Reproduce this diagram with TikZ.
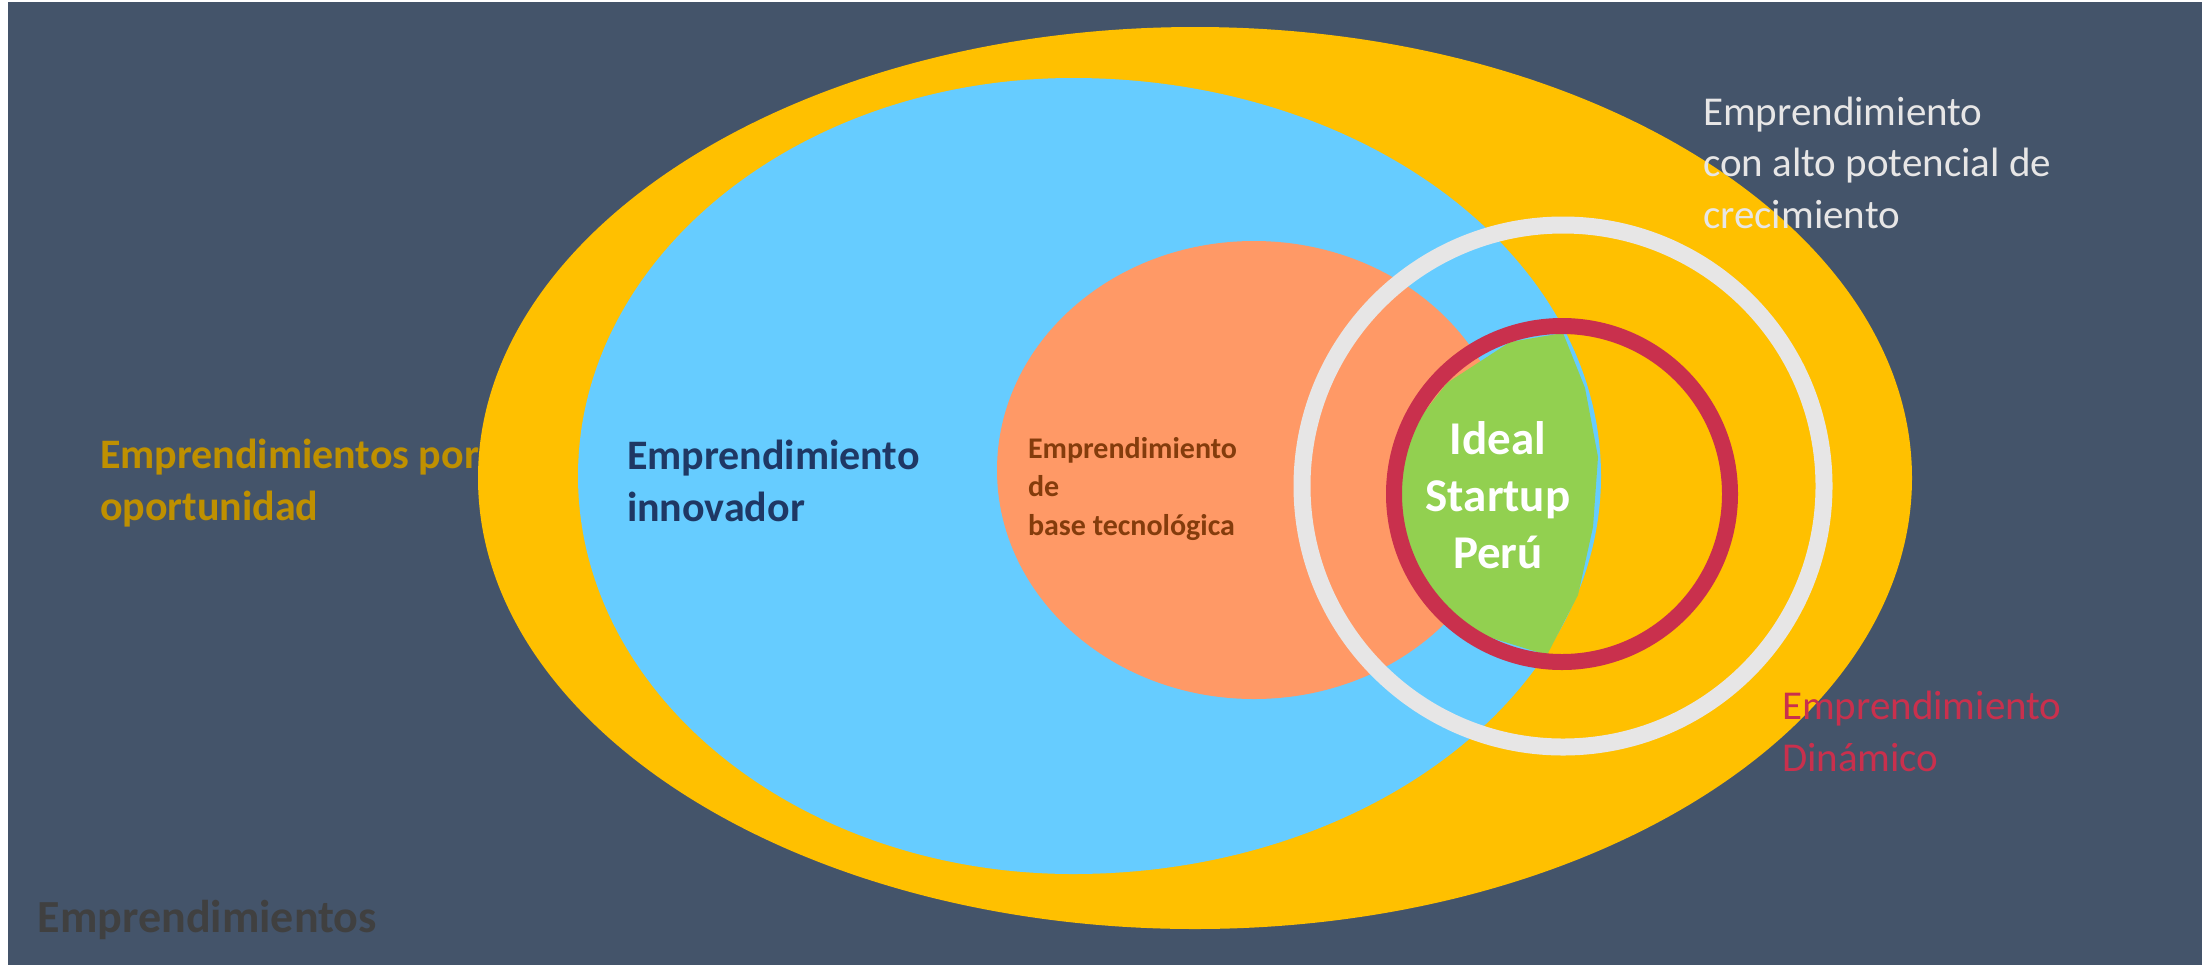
\documentclass[tikz,border=0pt]{standalone}
\usepackage{fontspec}
\setmainfont{Carlito}
\definecolor{bgslate}{HTML}{44546A}
\definecolor{yel}{HTML}{FFC000}
\definecolor{skyb}{HTML}{66CCFF}
\definecolor{peach}{HTML}{FF9966}
\definecolor{lime}{HTML}{92D050}
\definecolor{ringgray}{HTML}{E7E6E6}
\definecolor{ringred}{HTML}{C9304D}
\definecolor{oppgold}{HTML}{BF9000}
\definecolor{innovblue}{HTML}{1F3864}
\definecolor{techbrown}{HTML}{843C0C}
\definecolor{darkgraytxt}{HTML}{404040}
\tikzset{
  lbl/.style={inner sep=0pt, outer sep=0pt, anchor=base west, align=left},
  bigbold/.style={font=\fontsize{21}{26}\selectfont\bfseries},
  bigreg/.style={font=\fontsize{20.5}{25.75}\selectfont},
}
\begin{document}
\begin{tikzpicture}[x=0.5pt,y=-0.5pt]
\useasboundingbox (0,0) rectangle (2211,965);
\fill[white] (0,0) rectangle (2211,965);
\fill[bgslate] (8,2) rectangle (2202,965);
% labels under the ellipse (anchor = baseline of last line)
\node[lbl, bigbold, text=oppgold] (opp) at (100,520) {Emprendimientos por\\oportunidad};
\node[lbl, text=darkgraytxt, font=\fontsize{23}{28}\selectfont\bfseries] (empr) at (38,932) {Emprendimientos};
% ellipses
\fill[yel] (1195,478) ellipse [x radius=358.5pt, y radius=225.5pt];
\fill[skyb] (1073,78) arc[start angle=90, end angle=270, x radius=247.5pt, y radius=199pt]
  arc[start angle=270, end angle=450, x radius=264pt, y radius=199pt] -- cycle;
\fill[peach] (1254,470) ellipse [x radius=128.5pt, y radius=114.5pt];
% rings and core
\draw[ringgray, line width=8.5pt] (1563,486) circle [radius=130.5pt];
\fill[lime] (1510,342) -- (1563,333) -- (1585,388) -- (1598,457) -- (1593,527) -- (1578,595)
  -- (1547,655) -- (1482,635) -- (1445,607) -- (1420,580) -- (1398,520) -- (1399,472)
  -- (1418,420) -- (1447,383) -- cycle;
\draw[ringred, line width=8pt] (1562,494) circle [radius=84pt];
% labels on top
\node[lbl, bigbold, text=innovblue] (innov) at (627,521) {Emprendimiento\\innovador};
\node[lbl, text=techbrown, font=\fontsize{15}{19.25}\selectfont\bfseries] (tech) at (1028,535) {Emprendimiento\\de\\base tecnológica};
\node[inner sep=0pt, anchor=base, align=center, text=white, font=\fontsize{23.5}{28.5}\selectfont\bfseries] (ideal) at (1498,568) {Ideal\\Startup\\Perú};
\node[lbl, bigreg, text=ringgray] (alto) at (1703,228) {Emprendimiento\\con alto potencial de\\crecimiento};
\node[lbl, bigreg, text=ringred] (dyn) at (1782,771) {Emprendimiento\\Dinámico};
\end{tikzpicture}
\end{document}
